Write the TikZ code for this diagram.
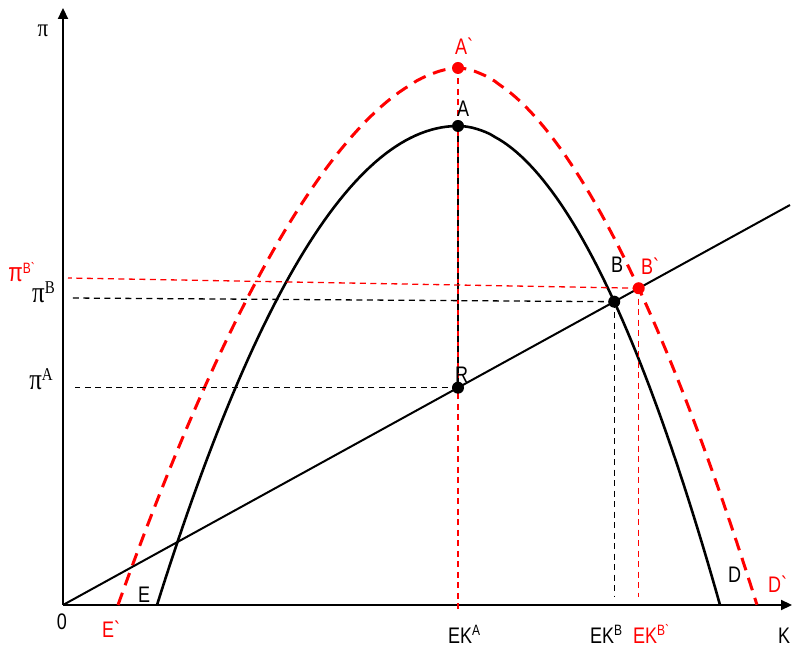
\documentclass[tikz,border=0pt]{standalone}
\usepackage{fontspec}
\setmainfont{Liberation Sans}[Ligatures=TeXOff]
\newfontfamily\pifont{Liberation Serif}[Ligatures=TeXOff]
\usepackage{tikz}
\usetikzlibrary{positioning,arrows.meta,intersections,calc}
\definecolor{shiftred}{RGB}{255,0,0}
\newcommand{\suplbl}[3][6pt]{\raisebox{#1}{\fontsize{#2}{#2}\selectfont #3}}
\tikzset{
  axis-line/.style={line width=2.2pt, -{Triangle[length=11pt,width=10pt]}},
  curve-line/.style={line width=2.6pt},
  shifted-curve/.style={line width=3pt, draw=shiftred, dash pattern=on 13pt off 8pt},
  ray-line/.style={line width=2pt},
  guide-line/.style={line width=1.3pt, dash pattern=on 6pt off 4.5pt},
  guide-red/.style={guide-line, draw=shiftred},
  point-dot/.style={circle, fill=black, inner sep=0pt, minimum size=12pt},
  point-red/.style={point-dot, fill=shiftred},
  curve-label/.style={font=\fontsize{18}{22}\selectfont, inner sep=1pt, yscale=1.25, transform shape},
  curve-label-red/.style={curve-label, text=shiftred},
  pi-label/.style={font=\fontsize{25}{28}\selectfont\pifont, inner sep=1pt, yscale=1.2, transform shape}
}

\begin{document}
\begin{tikzpicture}[x=1pt, y=1pt]
\useasboundingbox (-63,-43) rectangle (730,605);

% Axes
\coordinate (O) at (0,0);
\coordinate (xend) at (729,0);
\coordinate (yend) at (0,597);
\draw[axis-line] (O) -- (xend);
\draw[axis-line] (O) -- (yend);

% Profit curves
\draw[shifted-curve, name path=red-curve]
  plot[domain=1:0.005, samples=60, variable=\t] ({395-340*\t}, {537*(1-pow(\t,1.77))})
  -- plot[domain=0.005:1, samples=60, variable=\t] ({395+299*\t}, {537*(1-pow(\t,1.77))});
\draw[curve-line, name path=black-curve]
  plot[domain=1:0.005, samples=60, variable=\t] ({395-301*\t}, {479*(1-pow(\t,2))})
  -- plot[domain=0.005:1, samples=60, variable=\t] ({395+262*\t}, {479*(1-pow(\t,1.94))});

% Ray through the origin
\coordinate (rayend) at (727,400);
\draw[ray-line, name path=ray] (O) -- (rayend);
\path[name intersections={of=ray and black-curve, sort by=ray, by={pE0,pB}}];
\path[name intersections={of=ray and red-curve, sort by=ray, by={pE1,pBp}}];
\coordinate (pA) at (395,479);
\coordinate (pAp) at (395,537);
\coordinate (pR) at (395,217.3);

% Guide lines
\coordinate (kfoot) at (0,-8);
\coordinate (kstop) at (0,8);
\coordinate (ya) at (12,0);
\coordinate (yb) at (7,307);
\coordinate (ybp) at (5,327);
\draw[guide-red] (pAp) -- (pAp |- kfoot);
\draw[guide-line] (pA) -- (pR);
\draw[guide-line] (pR) -- (pR -| ya);
\draw[guide-line] (pB) -- (yb);
\draw[guide-red] (pBp) -- (ybp);
\draw[guide-line] (pB) -- (pB |- kstop);
\draw[guide-red] (pBp) -- (pBp |- kstop);

% Points
\node[point-red] (Ap) at (pAp) {};
\node[point-dot] (A) at (pA) {};
\node[point-dot] (R) at (pR) {};
\node[point-dot] (B) at (pB) {};
\node[point-red] (Bp) at (pBp) {};

% Point labels
\node[curve-label-red, anchor=base west] (lbl-Ap) at (391,550) {A`};
\node[curve-label, anchor=base west] (lbl-A) at (393,488) {A};
\node[curve-label, anchor=base west] (lbl-B) at (547,332) {B};
\node[curve-label-red, anchor=base west] (lbl-Bp) at (577,330) {B`};
\node[curve-label, anchor=base west] (lbl-R) at (391,222) {R};
\node[curve-label, anchor=base west] (lbl-E) at (74,2) {E};
\node[curve-label-red, anchor=base west] (lbl-Ep) at (38,-33) {E`};
\node[curve-label, anchor=base west] (lbl-D) at (664,22) {D};
\node[curve-label-red, anchor=base west] (lbl-Dp) at (704,12) {D`};

% Axis labels
\node[curve-label, anchor=base] (lbl-0) at (-1,-25) {0};
\node[curve-label, anchor=base west] (lbl-K) at (714,-38) {K};
\node[curve-label, anchor=base west] (lbl-EKA) at (384,-38) {EK\suplbl{12}{A}};
\node[curve-label, anchor=base west] (lbl-EKB) at (526,-38) {EK\suplbl{12}{B}};
\node[curve-label-red, anchor=base west] (lbl-EKBp) at (569,-38) {EK\suplbl{12}{B`}};
\node[pi-label, anchor=base, font=\fontsize{21}{24}\selectfont\pifont] (lbl-pi) at (-20,568) {π};
\node[pi-label, anchor=base east] (lbl-piB) at (-7,302) {π\suplbl[8pt]{15}{B}};
\node[pi-label, anchor=base east] (lbl-piA) at (-9,215) {π\suplbl[8pt]{15}{A}};
\node[curve-label-red, anchor=base east, font=\fontsize{21}{24}\selectfont] (lbl-piBp) at (-27,323) {π\suplbl[7pt]{12}{B`}};
\end{tikzpicture}
\end{document}
